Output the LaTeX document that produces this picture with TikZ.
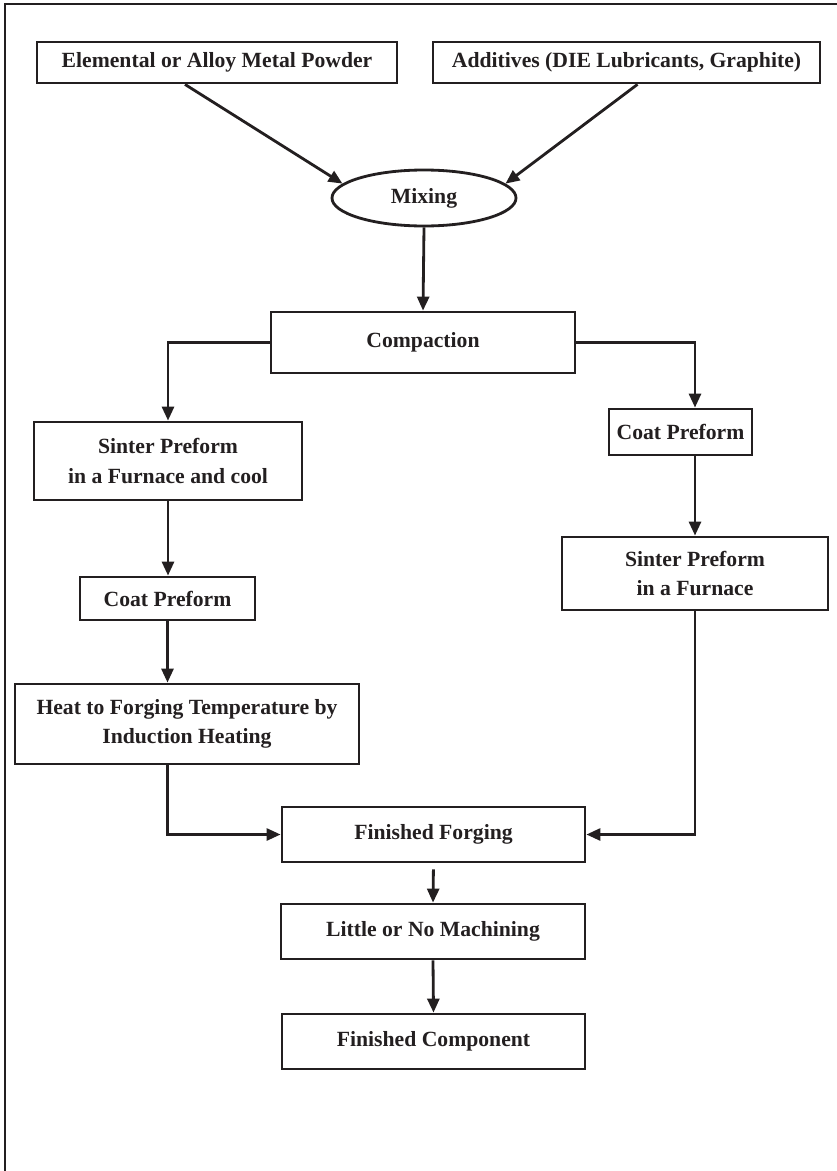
\documentclass[tikz,border=0pt]{standalone}
\usepackage{fontspec}
\setmainfont{Liberation Serif}
\usetikzlibrary{arrows.meta,shapes.geometric}
\definecolor{ink}{RGB}{35,31,32}

\begin{document}
\begin{tikzpicture}[x=0.03cm,y=-0.03cm,
			box/.style={draw=ink,line width=2.4pt,align=center,inner sep=0pt,text=ink,font=\fontsize{18.5}{25}\selectfont\bfseries},
			flow/.style={draw=ink,line width=2.4pt,-{Triangle[length=0.42cm,width=0.36cm]}}]
			\useasboundingbox (0,0) rectangle (837,1171);
			\draw[ink,line width=1.5pt] (5,1171) -- (5,4) -- (837,4);
			\node[box,minimum width=10.8cm,minimum height=1.23cm] (powder) at (217,62.5) {Elemental or Alloy Metal Powder};
			\node[box,minimum width=11.61cm,minimum height=1.23cm] (additives) at (626.5,62.5) {Additives (DIE Lubricants, Graphite)};
			\node[box,ellipse,minimum width=5.52cm,minimum height=1.68cm] (mixing) at (424,198) {Mixing};
			\node[box,minimum width=9.12cm,minimum height=1.83cm] (compaction) at (423,342.5) {Compaction};
			\node[box,minimum width=8.04cm,minimum height=2.34cm] (sinterL) at (168,461) {Sinter Preform\\in a Furnace and cool};
			\node[box,minimum width=5.25cm,minimum height=1.29cm] (coatL) at (167.5,598.5) {Coat Preform};
			\node[box,minimum width=10.32cm,minimum height=2.4cm] (heat) at (187,724) {Heat to Forging Temperature by\\Induction Heating};
			\node[box,minimum width=4.29cm,minimum height=1.38cm] (coatR) at (680.5,432) {Coat Preform};
			\node[box,minimum width=7.98cm,minimum height=2.19cm] (sinterR) at (695,573.5) {Sinter Preform\\in a Furnace};
			\node[box,minimum width=9.09cm,minimum height=1.65cm] (forging) at (433.5,834.5) {Finished Forging};
			\node[box,minimum width=9.12cm,minimum height=1.65cm] (machining) at (433,931.5) {Little or No Machining};
			\node[box,minimum width=9.09cm,minimum height=1.65cm] (component) at (433.5,1041.5) {Finished Component};
			\draw[flow] ([xshift=-0.96cm]powder.south) -- (mixing.170);
			\draw[flow] ([xshift=0.33cm]additives.south) -- (mixing.10);
			\draw[flow] (mixing.south) -- (compaction.north);
			\draw[flow] (compaction.west) -| (sinterL.north);
			\draw[flow] (compaction.east) -| (sinterR.north |- coatR.north);
			\draw[flow] (coatR.south -| sinterR.north) -- (sinterR.north);
			\draw[flow] (sinterL.south) -- (sinterL.south |- coatL.north);
			\draw[flow] (coatL.south) -- (coatL.south |- heat.north);
			\draw[flow] (heat.south -| coatL.south) |- (forging.west);
			\draw[flow] (sinterR.south) |- (forging.east);
			\draw[flow,shorten <=5pt] (forging.south) -- (machining.north);
			\draw[flow] (machining.south) -- (component.north);
		\end{tikzpicture}
\end{document}
